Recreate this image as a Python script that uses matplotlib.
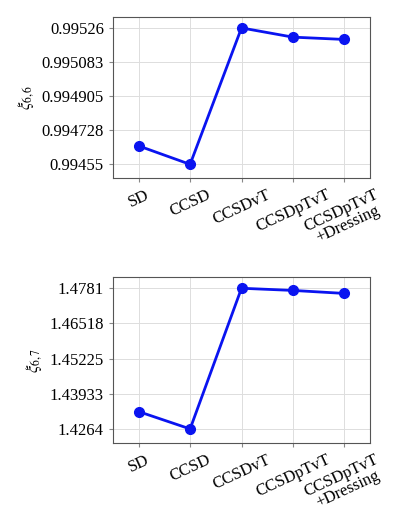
import matplotlib
matplotlib.use("Agg")
import matplotlib.pyplot as plt

plt.rcParams['font.family'] = ['Liberation Serif', 'DejaVu Serif']
plt.rcParams['mathtext.fontset'] = 'stix'

categories = ["SD", "CCSD", "CCSDvT", "CCSDpTvT", "CCSDpTvT\n+Dressing"]
xi66 = [0.994646, 0.99455, 0.99526, 0.995212, 0.995200]
xi67 = [1.43277, 1.4264, 1.4781, 1.4773, 1.4762]
ticks66 = [0.99455, 0.994728, 0.994905, 0.995083, 0.99526]
ticks67 = [1.4264, 1.43933, 1.45225, 1.46518, 1.4781]
ylabels = [r"$\xi_{6,6}$", r"$\xi_{6,7}$"]

fig = plt.figure(figsize=(4.15, 5.26), dpi=100)
axes = [fig.add_axes([113/415, 1-178/526, 257/415, 161/526]),
        fig.add_axes([113/415, 1-443/526, 257/415, 166/526])]
for ax, vals, ticks, yl in zip(axes, [xi66, xi67], [ticks66, ticks67], ylabels):
    x = range(len(categories))
    ax.plot(x, vals, color='#0a14f0', lw=2, marker='o', ms=7)
    ax.set_xlim(-0.5, 4.5)
    span = ticks[-1] - ticks[0]
    ax.set_ylim(ticks[0] - 0.1 * span, ticks[-1] + 0.08 * span)
    ax.set_yticks(ticks)
    ax.set_yticklabels([str(t) for t in ticks], fontsize=12)
    ax.set_xticks(list(x))
    ax.set_xticklabels(categories, rotation=25, fontsize=12, ha='center', linespacing=0.9)
    ax.grid(True, color='#dddddd', lw=0.7)
    ax.set_ylabel(yl, fontsize=12)
    ax.tick_params(length=3, color='#888888')
    for s in ax.spines.values():
        s.set_color('#555555')
fig.savefig("out.png", dpi=100)
